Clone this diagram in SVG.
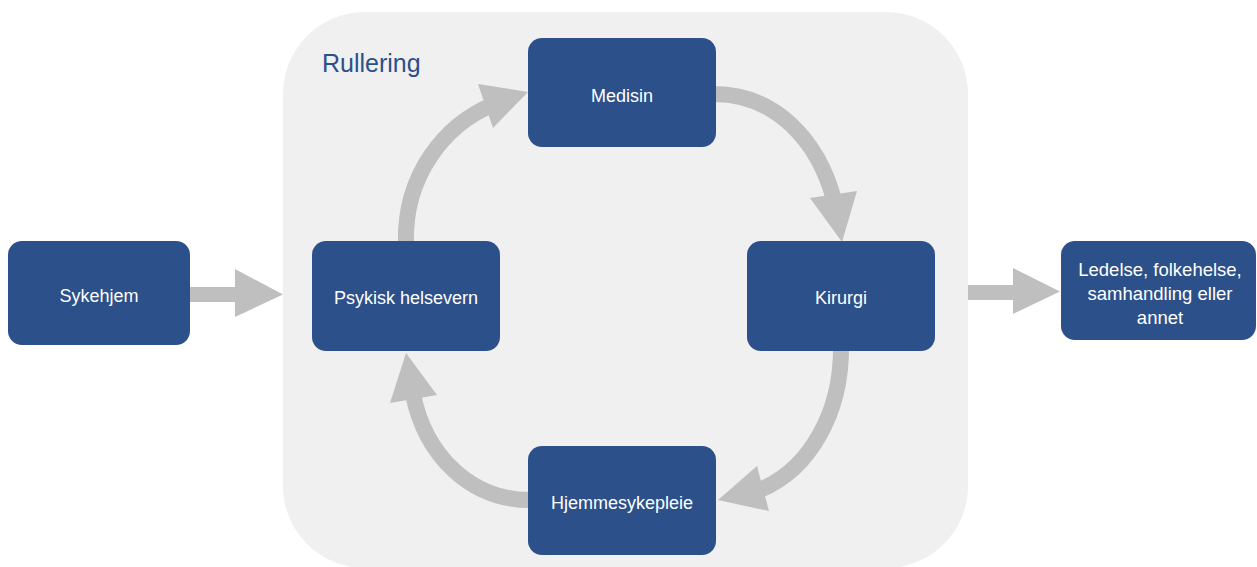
<svg xmlns="http://www.w3.org/2000/svg" width="1257" height="567" viewBox="0 0 1257 567">
<style>
.node rect{fill:#2C5089;}
.node text{fill:#FFFFFF;font-family:"Liberation Sans",Arial,sans-serif;font-size:18px;text-anchor:middle;}
.conn path.shaft{fill:none;stroke:#BFBFBF;stroke-width:16;}
.conn polygon{fill:#BFBFBF;}
.title{fill:#2C5089;font-family:"Liberation Sans",Arial,sans-serif;font-size:25px;}
</style>
<rect width="1257" height="567" fill="#FFFFFF"/>
<g id="panel">
<rect x="283" y="12" width="685" height="556" rx="82" ry="82" fill="#F0F0F0"/>
<text class="title" x="322" y="72">Rullering</text>
</g>
<g id="connectors" class="conn">
<path class="shaft" d="M406,243 C404,175 445,125 492,105"/>
<polygon points="528,92 478,84 493,128"/>
<path class="shaft" d="M714,94 C775,94 818,140 834,200"/>
<polygon points="842,242 810,198 857,191"/>
<path class="shaft" d="M841,349 C841,410 812,468 760,490"/>
<polygon points="718,500 757,466 769,511"/>
<path class="shaft" d="M530,500 C470,500 425,455 413,394"/>
<polygon points="406,353 390,403 437,395"/>
<rect x="190" y="287" width="47" height="15" fill="#BFBFBF"/>
<polygon points="235,269 283,294.5 235,317"/>
<rect x="968" y="285" width="47" height="15" fill="#BFBFBF"/>
<polygon points="1013,268 1060,291.5 1013,314"/>
</g>
<g id="sykehjem" class="node">
<rect x="8" y="241" width="182" height="104" rx="14"/>
<text x="99" y="302">Sykehjem</text>
</g>
<g id="psykisk" class="node">
<rect x="312" y="241" width="188" height="110" rx="14"/>
<text x="406" y="304">Psykisk helsevern</text>
</g>
<g id="medisin" class="node">
<rect x="528" y="38" width="188" height="109" rx="14"/>
<text x="622" y="102">Medisin</text>
</g>
<g id="kirurgi" class="node">
<rect x="747" y="241" width="188" height="110" rx="14"/>
<text x="841" y="304">Kirurgi</text>
</g>
<g id="hjemmesykepleie" class="node">
<rect x="528" y="446" width="188" height="109" rx="14"/>
<text x="622" y="509">Hjemmesykepleie</text>
</g>
<g id="ledelse" class="node">
<rect x="1061" y="241" width="195" height="99" rx="14"/>
<text x="1160" y="276" style="font-size:18.5px">Ledelse, folkehelse,</text>
<text x="1160" y="300" style="font-size:18.5px">samhandling eller</text>
<text x="1160" y="324" style="font-size:18.5px">annet</text>
</g>
</svg>
